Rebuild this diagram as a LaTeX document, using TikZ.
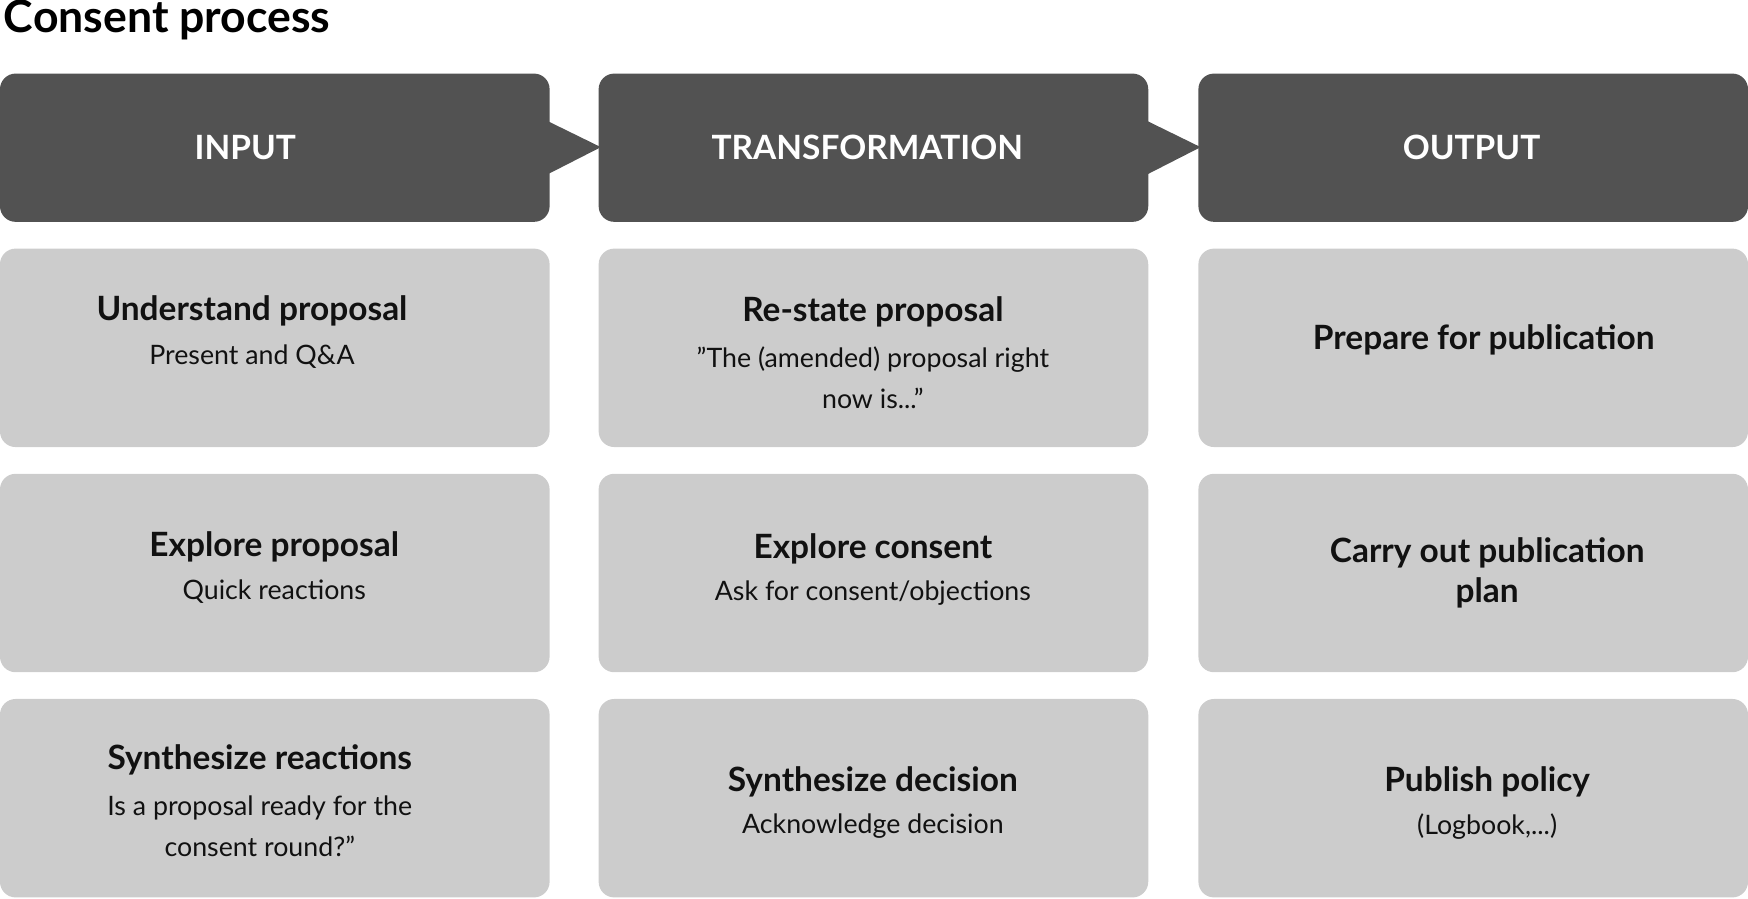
\documentclass[tikz,border=0pt]{standalone}
\usepackage{fontspec}
\setmainfont{Lato}
\definecolor{dk}{HTML}{525252}
\definecolor{lt}{HTML}{CCCCCC}
\definecolor{tx}{HTML}{111111}
\begin{document}
\begin{tikzpicture}[x=1pt,y=-1pt,
 hdr/.style={fill=dk,rounded corners=14pt,draw=none},
 cell/.style={fill=lt,rounded corners=14pt,draw=none},
 htext/.style={text=white,font=\fontsize{30}{36}\selectfont\bfseries},
 ttl/.style={text=tx,font=\fontsize{30}{36}\selectfont\bfseries,align=center},
 sub/.style={text=tx,font=\fontsize{24}{37}\selectfont,align=center}]
\useasboundingbox (0,0) rectangle (1568,806);
\node[anchor=west,text=black,font=\fontsize{40}{48}\selectfont\bfseries] (title) at (0,18) {Consent process};
% arrows
\fill[dk] (490,108) -- (539,132) -- (490,157) -- cycle;
\fill[dk] (1028,108) -- (1077,132) -- (1028,157) -- cycle;
\foreach \x/\n in {0/a,537/b,1075/c}{
 \path[hdr] (\x,66) rectangle ++(493,133);
 \path[cell] (\x,223) rectangle ++(493,178);
 \path[cell] (\x,425) rectangle ++(493,178);
 \path[cell] (\x,627) rectangle ++(493,178);
}
\node[htext] (h1) at (220,132) {INPUT};
\node[htext] (h2) at (778,132) {TRANSFORMATION};
\node[htext] (h3) at (1320,132) {OUTPUT};
\node[ttl] (t11) at (226,279) {Understand proposal};
\node[sub] (s11) at (226,320) {Present and Q\&A};
\node[ttl] (t12) at (783,280) {Re-state proposal};
\node[sub] (s12) at (783,339) {"The (amended) proposal right\\now is..."};
\node[ttl] (t13) at (1331,305) {Prepare for publication};
\node[ttl] (t21) at (246,491) {Explore proposal};
\node[sub] (s21) at (246,531) {Quick reactions};
\node[ttl] (t22) at (783,492) {Explore consent};
\node[sub] (s22) at (783,532) {Ask for consent/objections};
\node[ttl] (t23) at (1334,514) {Carry out publication\\plan};
\node[ttl] (t31) at (233,682) {Synthesize reactions};
\node[sub] (s31) at (233,741) {Is a proposal ready for the\\consent round?"};
\node[ttl] (t32) at (783,701) {Synthesize decision};
\node[sub] (s32) at (783,741) {Acknowledge decision};
\node[ttl] (t33) at (1334,701) {Publish policy};
\node[sub] (s33) at (1334,741) {(Logbook,...)};
\end{tikzpicture}
\end{document}
